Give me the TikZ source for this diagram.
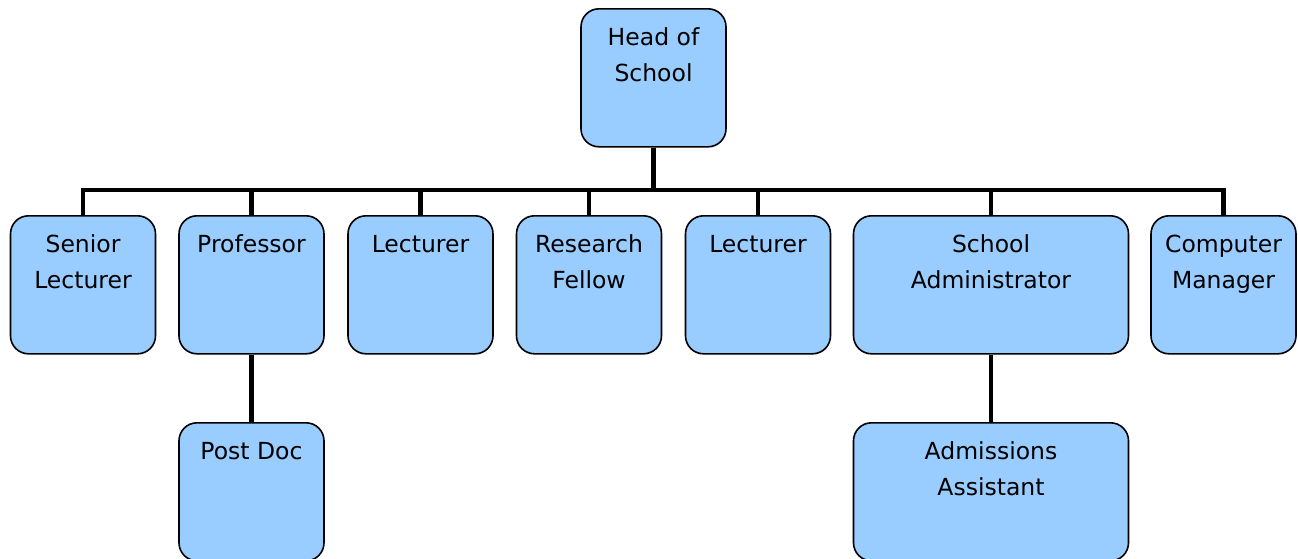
\documentclass[tikz,border=0pt]{standalone}
\usepackage{fontspec}
\setmainfont{DejaVu Sans}
\definecolor{boxblue}{HTML}{99CCFF}
\newcommand{\toptext}[1]{\begin{tabular}[t]{@{}c@{}}#1\end{tabular}}

\begin{document}
\begin{tikzpicture}[x=1pt,y=-1pt]
        \tikzstyle{every node}=[draw,fill=boxblue,rounded corners=18pt,line width=1.6pt,anchor=north,
                font=\fontsize{23.5}{36}\selectfont,minimum width=145pt,inner xsep=4pt,inner ysep=10pt,text height=27pt,text depth=91pt]
        \tikzstyle{wide}=[minimum width=275pt]
        \tikzstyle{link}=[line width=4.8pt]
        \useasboundingbox (0,0) rectangle (1298,558);
        % top
        \node (head) at (653.5,8) {\toptext{Head of\\School}};
        \coordinate (bar) at (653.5,190);
        % staff
        \node (senior) at (83,215) {\toptext{Senior\\Lecturer}};
        \node (prof) at (251.5,215) {\toptext{Professor}};
        \node (lectA) at (420.5,215) {\toptext{Lecturer}};
        \node (fellow) at (589,215) {\toptext{Research\\Fellow}};
        \node (lectB) at (758,215) {\toptext{Lecturer}};
        \node[wide] (admin) at (991,215) {\toptext{School\\Administrator}};
        \node (comp) at (1223.5,215) {\toptext{Computer\\Manager}};
        % below
        \node (postdoc) at (251.5,422) {\toptext{Post Doc}};
        \node[wide] (assist) at (991,422) {\toptext{Admissions\\Assistant}};
        \foreach \n in {senior,prof,lectA,fellow,lectB,admin,comp}
            \draw[link] (head.south) -- (bar) -| (\n.north);
        \draw[link] (prof) -- (postdoc);
        \draw[link] (admin) -- (assist);
\end{tikzpicture}
\end{document}
